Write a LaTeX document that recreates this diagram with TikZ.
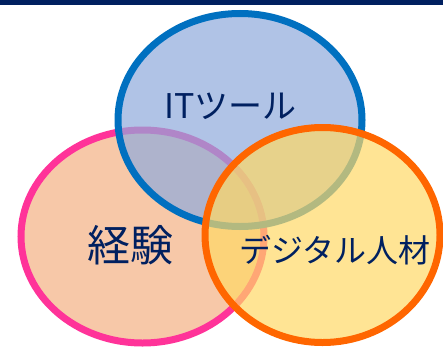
\documentclass[tikz,border=0pt]{standalone}
\usepackage{fontspec}
\newfontfamily\jpfont{Noto Sans CJK JP}
\definecolor{barnavy}{HTML}{002060}
\definecolor{itline}{HTML}{0070C0}
\definecolor{itfill}{HTML}{8FAADC}
\definecolor{expline}{HTML}{FF3399}
\definecolor{expfill}{HTML}{F4B183}
\definecolor{digline}{HTML}{FF6600}
\definecolor{digfill}{HTML}{FFD966}
\tikzset{
  ring/.style={line width=7pt, fill opacity=.7},
  venntext/.style={inner sep=0pt, text=barnavy}
}
\begin{document}
\begin{tikzpicture}[x=1pt, y=-1pt]
  \useasboundingbox (0,0) rectangle (443,350);
  \fill[barnavy] (0,0) rectangle (443,5.5);

  %% круги
  \draw[ring, draw=expline, fill=expfill] (142.5,236.5) ellipse (121.5 and 106.5);
  \draw[ring, draw=itline, fill=itfill] (240,120) ellipse (122 and 106.5);
  \draw[ring, draw=digline, fill=digfill] (322.5,235) ellipse (117.5 and 107.5);

  %% подписи
  \node[venntext, font=\jpfont\fontsize{34}{40}\selectfont] (it) at (230.5,106) {ITツール};
  \node[venntext, font=\jpfont\fontsize{43}{50}\selectfont] (exp) at (130,245) {経験};
  \node[venntext, font=\jpfont\fontsize{32}{38}\selectfont] (dig) at (335,250) {デジタル人材};
\end{tikzpicture}
\end{document}
